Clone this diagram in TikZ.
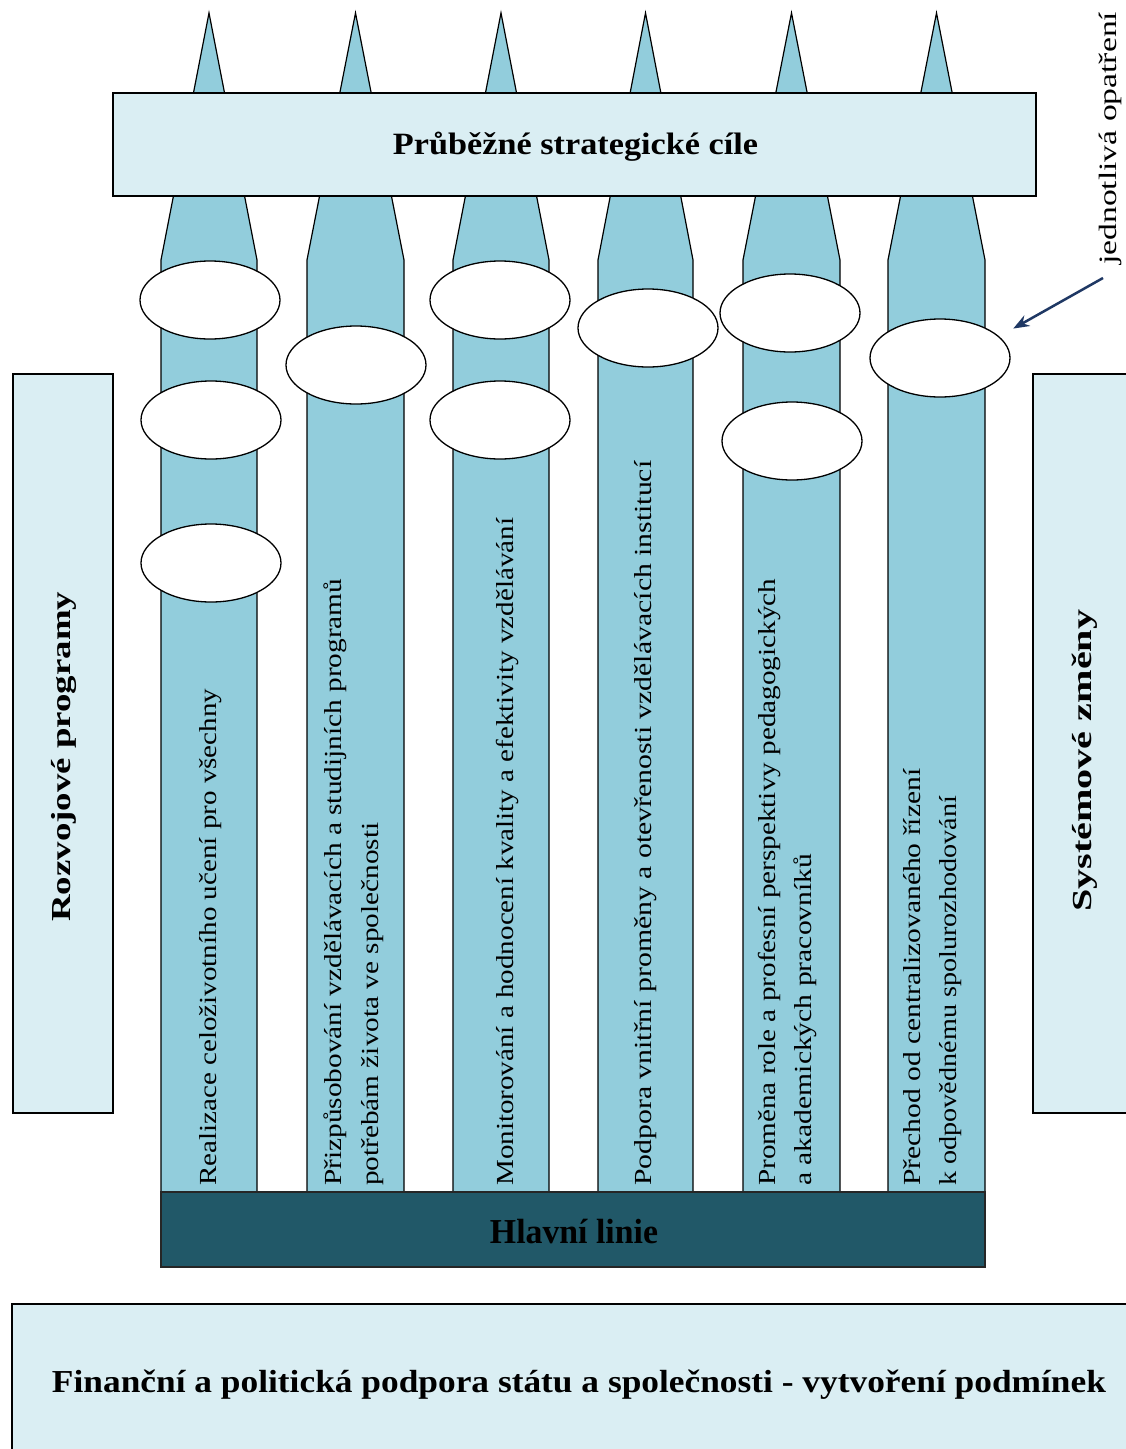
\documentclass[tikz,border=0pt]{standalone}
\usepackage{fontspec}
\setmainfont{Liberation Serif}
\usepackage{graphicx}
\usetikzlibrary{arrows.meta,shapes.geometric}
\definecolor{pillarc}{RGB}{146,205,220}
\definecolor{lightc}{RGB}{218,238,243}
\definecolor{darkc}{RGB}{33,88,104}
\definecolor{navyc}{RGB}{31,56,100}
\newcommand{\fitw}[2]{\resizebox{#1}{\height}{#2}}
\begin{document}
\begin{tikzpicture}[x=1pt,y=-1pt,
 pillarsty/.style={fill=pillarc,draw=black,line width=1.2pt,line join=miter},
 boxsty/.style={rectangle,fill=lightc,draw=black,line width=1.3pt,inner sep=0pt},
 measuresty/.style={ellipse,fill=white,draw=black,line width=1.3pt,minimum width=140pt,minimum height=78pt,inner sep=0pt},
 vtext/.style={rotate=90,anchor=base west,inner sep=0pt,font=\fontsize{24.5}{28}\selectfont},
 vbold/.style={rotate=90,anchor=base west,inner sep=0pt,font=\bfseries\fontsize{27.5}{30}\selectfont},
 htext/.style={inner sep=0pt,anchor=base},
 arr/.style={-{Stealth[length=16pt,width=12pt]},draw=navyc,line width=2.5pt}
]
\clip (0,0) rectangle (1126,1449);
\fill[white] (0,0) rectangle (1126,1449);
% pillars
\foreach \L/\R in {161/257,307/404,453/549,598/693,743/840,888/985}{
  \draw[pillarsty] (\L,1192) -- (\L,260) -- ({(\L+\R)/2},13) -- (\R,260) -- (\R,1192) -- cycle;
}
% top box
\node[boxsty,minimum width=923pt,minimum height=103pt] (goals) at (574.5,144.5) {};
\node[htext,font=\bfseries\fontsize{31}{31}\selectfont] (goalsT) at (575.5,154) {\fitw{365pt}{Průběžné strategické cíle}};
% measures
\node[measuresty] (e1a) at (210,300) {};
\node[measuresty] (e1b) at (211,420) {};
\node[measuresty] (e1c) at (211,563) {};
\node[measuresty] (e2a) at (356,365) {};
\node[measuresty] (e3a) at (500,300) {};
\node[measuresty] (e3b) at (500,420) {};
\node[measuresty] (e4a) at (648,328) {};
\node[measuresty] (e5a) at (790,313) {};
\node[measuresty] (e5b) at (792,441) {};
\node[measuresty] (e6a) at (940,358) {};
% main bar
\node[rectangle,fill=darkc,draw=black!85,line width=1.3pt,minimum width=824pt,minimum height=75pt,inner sep=0pt] (main) at (573,1229.5) {};
\node[htext,font=\bfseries\fontsize{35}{35}\selectfont,text=black] (mainT) at (574,1243) {\fitw{168pt}{Hlavní linie}};
% side boxes
\node[boxsty,minimum width=100pt,minimum height=739pt] (leftbox) at (63,743.5) {};
\node[boxsty,minimum width=107pt,minimum height=739pt] (rightbox) at (1086.5,743.5) {};
\node[vbold] (leftT) at (70,922) {\fitw{330pt}{Rozvojové programy}};
\node[vbold] (rightT) at (1091,912) {\fitw{302pt}{Systémové změny}};
% bottom box
\node[boxsty,minimum width=1128pt,minimum height=166pt] (basebox) at (576,1387) {};
\node[htext,font=\bfseries\fontsize{32}{32}\selectfont] (baseT) at (579,1392) {\fitw{1054pt}{Finanční a politická podpora státu a společnosti - vytvoření podmínek}};
% pillar texts
\node[vtext] (t1) at (216,1186) {\fitw{497pt}{Realizace celoživotního učení pro všechny}};
\node[vtext] (t2a) at (341,1186) {\fitw{607pt}{Přizpůsobování vzdělávacích a studijních programů}};
\node[vtext] (t2b) at (378,1186) {\fitw{363pt}{potřebám života ve společnosti}};
\node[vtext] (t3) at (513,1186) {\fitw{668pt}{Monitorování a hodnocení kvality a efektivity vzdělávání}};
\node[vtext] (t4) at (651,1186) {\fitw{725pt}{Podpora vnitřní proměny a otevřenosti vzdělávacích institucí}};
\node[vtext] (t5a) at (775,1186) {\fitw{607pt}{Proměna role a profesní perspektivy pedagogických}};
\node[vtext] (t5b) at (811,1186) {\fitw{332pt}{a akademických pracovníků}};
\node[vtext] (t6a) at (920,1186) {\fitw{417pt}{Přechod od centralizovaného řízení}};
\node[vtext] (t6b) at (956,1186) {\fitw{390pt}{k odpovědnému spolurozhodování}};
% annotation
\node[vtext,font=\fontsize{25}{28}\selectfont] (noteT) at (1116,265) {\fitw{253pt}{jednotlivá opatření}};
\coordinate (atail) at (1103,278);
\draw[arr,shorten >=16pt] (atail) -- (e6a.20);
\end{tikzpicture}
\end{document}
